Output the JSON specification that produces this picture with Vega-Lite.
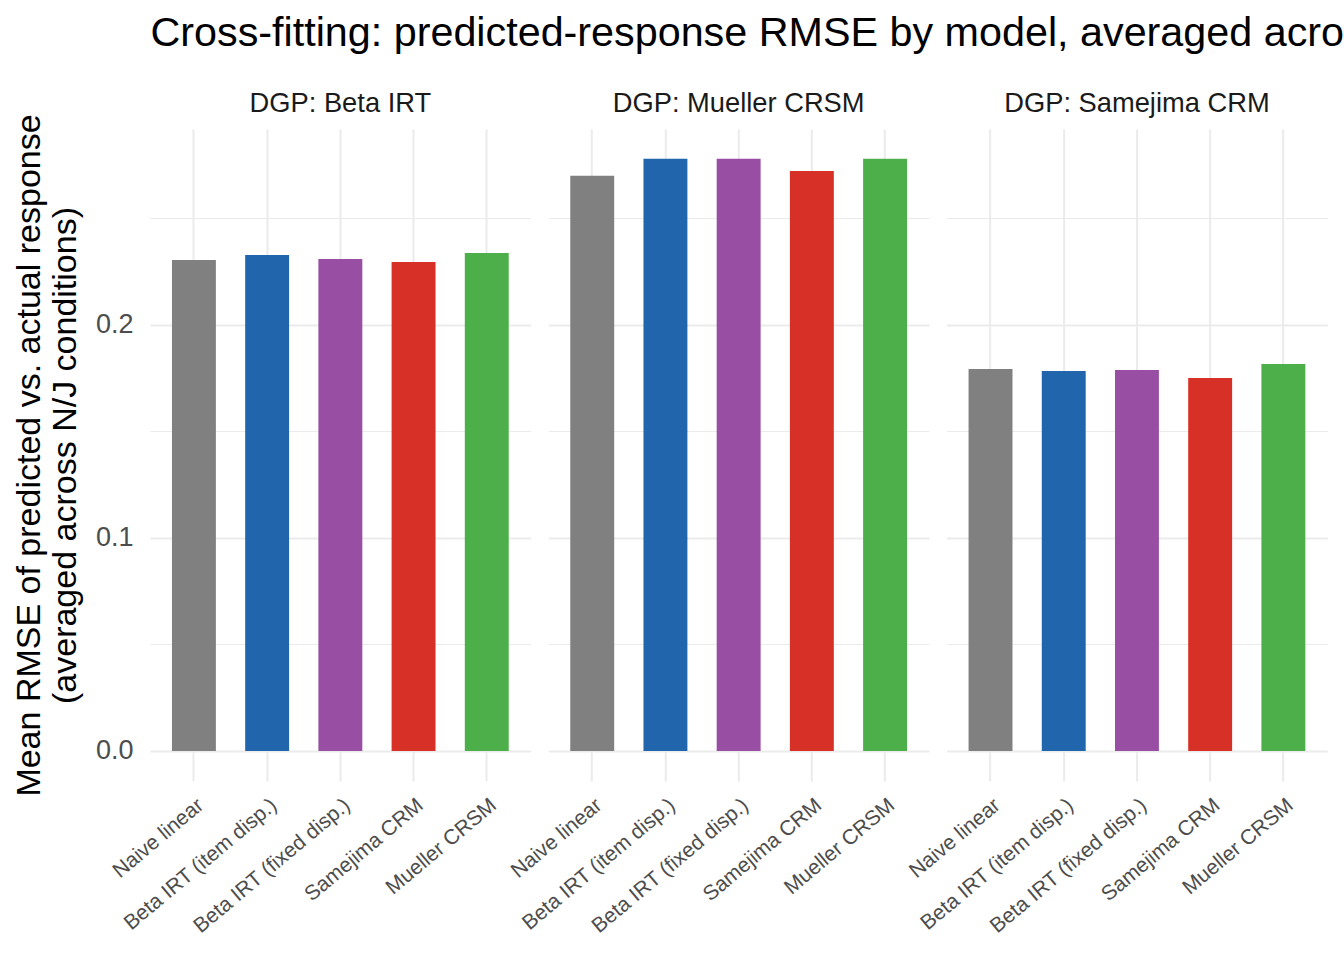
{
  "$schema": "https://vega.github.io/schema/vega-lite/v6.json",
  "background": "white",
  "padding": {"left": 12, "top": 13, "right": 5, "bottom": 5},
  "title": {
    "text": "Cross-fitting: predicted-response RMSE by model, averaged across N/J conditions",
    "anchor": "start",
    "dx": 138,
    "font": "Liberation Sans",
    "fontSize": 41.3,
    "fontWeight": "normal",
    "color": "black",
    "offset": 35
  },
  "data": {
    "values": [
      {"dgp": "DGP: Beta IRT", "model": "Naive linear", "rmse": 0.2305},
      {"dgp": "DGP: Beta IRT", "model": "Beta IRT (item disp.)", "rmse": 0.2329},
      {"dgp": "DGP: Beta IRT", "model": "Beta IRT (fixed disp.)", "rmse": 0.2310},
      {"dgp": "DGP: Beta IRT", "model": "Samejima CRM", "rmse": 0.2296},
      {"dgp": "DGP: Beta IRT", "model": "Mueller CRSM", "rmse": 0.2338},
      {"dgp": "DGP: Mueller CRSM", "model": "Naive linear", "rmse": 0.2700},
      {"dgp": "DGP: Mueller CRSM", "model": "Beta IRT (item disp.)", "rmse": 0.2780},
      {"dgp": "DGP: Mueller CRSM", "model": "Beta IRT (fixed disp.)", "rmse": 0.2780},
      {"dgp": "DGP: Mueller CRSM", "model": "Samejima CRM", "rmse": 0.2723},
      {"dgp": "DGP: Mueller CRSM", "model": "Mueller CRSM", "rmse": 0.2780},
      {"dgp": "DGP: Samejima CRM", "model": "Naive linear", "rmse": 0.1793},
      {"dgp": "DGP: Samejima CRM", "model": "Beta IRT (item disp.)", "rmse": 0.1784},
      {"dgp": "DGP: Samejima CRM", "model": "Beta IRT (fixed disp.)", "rmse": 0.1789},
      {"dgp": "DGP: Samejima CRM", "model": "Samejima CRM", "rmse": 0.1751},
      {"dgp": "DGP: Samejima CRM", "model": "Mueller CRSM", "rmse": 0.1817}
    ]
  },
  "facet": {
    "column": {
      "field": "dgp",
      "type": "nominal",
      "sort": ["DGP: Beta IRT", "DGP: Mueller CRSM", "DGP: Samejima CRM"],
      "header": {
        "title": null,
        "labelFont": "Liberation Sans",
        "labelFontSize": 27.3,
        "labelColor": "#1a1a1a",
        "labelPadding": 12
      }
    }
  },
  "spacing": 17.3,
  "spec": {
    "width": 380.7,
    "height": 652,
    "mark": {"type": "bar"},
    "encoding": {
      "x": {
        "field": "model",
        "type": "nominal",
        "sort": ["Naive linear", "Beta IRT (item disp.)", "Beta IRT (fixed disp.)", "Samejima CRM", "Mueller CRSM"],
        "scale": {"paddingInner": 0.4, "paddingOuter": 0.3},
        "axis": {
          "title": null,
          "grid": true,
          "bandPosition": 0.5,
          "gridWidth": 2,
          "labelAngle": -40,
          "labelFontSize": 21,
          "labelColor": "#4d4d4d",
          "labelPadding": 13,
          "labelLimit": 0
        }
      },
      "y": {
        "field": "rmse",
        "type": "quantitative",
        "scale": {"domain": [-0.0141, 0.292], "nice": false, "zero": false},
        "axis": {
          "title": ["Mean RMSE of predicted vs. actual response", "(averaged across N/J conditions)"],
          "titleFontSize": 34,
          "titleLineHeight": 36,
          "titleFontWeight": "normal",
          "titleColor": "black",
          "titlePadding": 13,
          "values": [0, 0.05, 0.1, 0.15, 0.2, 0.25],
          "labelExpr": "abs(datum.value * 10 - round(datum.value * 10)) < 0.001 ? format(datum.value, '.1f') : ''",
          "gridWidth": {"condition": {"test": "abs(datum.value * 10 - round(datum.value * 10)) < 0.001", "value": 2}, "value": 1},
          "labelFontSize": 27,
          "labelColor": "#4d4d4d",
          "labelPadding": 17
        }
      },
      "y2": {"datum": 0},
      "color": {
        "field": "model",
        "type": "nominal",
        "scale": {
          "domain": ["Naive linear", "Beta IRT (item disp.)", "Beta IRT (fixed disp.)", "Samejima CRM", "Mueller CRSM"],
          "range": ["#808080", "#2166ac", "#984ea3", "#d73027", "#4daf4a"]
        },
        "legend": null
      }
    }
  },
  "config": {
    "font": "Liberation Sans",
    "view": {"stroke": null},
    "axis": {"domain": false, "ticks": false, "gridColor": "#ebebeb", "labelFont": "Liberation Sans", "titleFont": "Liberation Sans"}
  }
}
